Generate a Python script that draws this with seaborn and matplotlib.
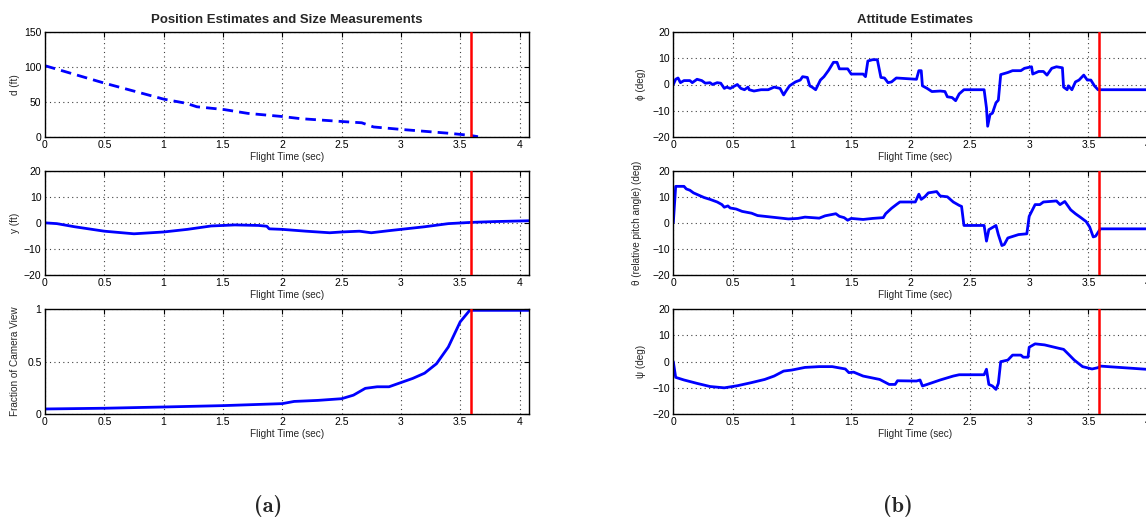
import os
import numpy as np
import pandas as pd
import matplotlib
matplotlib.use("Agg")
import matplotlib.pyplot as plt
from matplotlib.font_manager import FontProperties
import seaborn as sns

# ---------------- data ----------------
d_t = [0, 0.5, 1.0, 1.19, 1.28, 1.51, 1.71, 2.0, 2.15, 2.53, 2.67, 2.77, 3.0, 3.4, 3.58, 3.65]
d_v = [102, 77, 54, 48, 43, 39, 33.5, 29, 26, 21.5, 20, 14, 10.5, 5, 2, 0]

y_t = [0, 0.1, 0.25, 0.5, 0.75, 1.0, 1.2, 1.4, 1.6, 1.8, 1.87, 1.89, 2.0, 2.2, 2.4, 2.5, 2.65,
       2.75, 2.9, 3.0, 3.2, 3.4, 3.6, 3.8, 4.08]
y_v = [0, -0.3, -1.5, -3.2, -4.2, -3.5, -2.5, -1.2, -0.8, -1.0, -1.3, -2.3, -2.5, -3.2, -3.8,
       -3.5, -3.2, -3.8, -3.0, -2.5, -1.5, -0.3, 0.2, 0.5, 0.8]

f_t = [0, 0.5, 1.0, 1.5, 2.0, 2.1, 2.3, 2.5, 2.6, 2.7, 2.8, 2.9, 3.0, 3.1, 3.2, 3.3, 3.4, 3.5,
       3.58, 3.6, 4.08]
f_v = [0.048, 0.055, 0.067, 0.08, 0.099, 0.12, 0.13, 0.146, 0.18, 0.245, 0.26, 0.26, 0.30,
       0.34, 0.39, 0.48, 0.64, 0.88, 0.99, 0.99, 0.99]

phi_t = [0, 0.02, 0.04, 0.06, 0.09, 0.14, 0.16, 0.2, 0.24, 0.27, 0.31, 0.33, 0.37, 0.4, 0.43,
         0.45, 0.48, 0.54, 0.57, 0.6, 0.63, 0.64, 0.68, 0.74, 0.8, 0.85, 0.9, 0.93, 0.95, 0.98,
         1.03, 1.07, 1.09, 1.13, 1.15, 1.17, 1.2, 1.24, 1.27, 1.31, 1.35, 1.38, 1.4, 1.47, 1.5,
         1.6, 1.62, 1.64, 1.68, 1.72, 1.75, 1.78, 1.81, 1.84, 1.88, 2.05, 2.07, 2.09, 2.1, 2.14,
         2.18, 2.25, 2.29, 2.31, 2.35, 2.38, 2.41, 2.45, 2.62, 2.64, 2.65, 2.67, 2.69, 2.72,
         2.74, 2.76, 2.82, 2.86, 2.93, 2.96, 3.02, 3.03, 3.08, 3.12, 3.15, 3.19, 3.23, 3.28,
         3.29, 3.32, 3.33, 3.36, 3.39, 3.42, 3.46, 3.49, 3.52, 3.55, 3.58, 4.08]
phi_v = [0, 2, 2.5, 0.7, 1.5, 1.5, 0.7, 2, 1.5, 0.5, 0.7, 0, 0.7, 0.5, -1.5,
         -1, -1.5, 0, -1.5, -2, -1, -2, -2.5, -2, -2, -1, -1.5, -4, -2.5, -0.5,
         1, 1.7, 3, 2.7, -0.5, -1, -2, 1.7, 3, 5.5, 8.5, 8.5, 6, 6, 4,
         4, 3, 9, 9.5, 9.5, 2.7, 2.5, 0.7, 1, 2.5, 2, 5.3, 5.3, -0.5, -1.5,
         -2.7, -2.5, -2.7, -4.7, -5, -6.2, -3.6, -2, -2, -9, -16, -11.5, -11, -7,
         -6, 3.8, 4.6, 5.3, 5.3, 6.2, 6.8, 4, 5, 5, 3.6, 6.2, 6.8, 6.4,
         -1, -2, -0.5, -2, 1, 1.7, 3.6, 1.7, 1.7, -0.5, -2, -2]

theta_t = [0, 0.02, 0.09, 0.11, 0.14, 0.17, 0.21, 0.26, 0.31, 0.37, 0.41, 0.43, 0.46, 0.48,
           0.53, 0.58, 0.66, 0.71, 0.83, 0.97, 1.05, 1.11, 1.23, 1.28, 1.37, 1.4, 1.44, 1.47,
           1.5, 1.6, 1.68, 1.77, 1.79, 1.84, 1.88, 1.91, 2.04, 2.07, 2.09, 2.12, 2.15, 2.22,
           2.25, 2.31, 2.36, 2.41, 2.43, 2.45, 2.62, 2.64, 2.66, 2.72, 2.74, 2.77, 2.79, 2.82,
           2.91, 2.98, 3.0, 3.05, 3.09, 3.12, 3.23, 3.26, 3.3, 3.35, 3.39, 3.43, 3.48, 3.51,
           3.54, 3.56, 3.6, 4.08]
theta_v = [0, 14, 14, 13, 12.5, 11.5, 10.7, 9.7, 9, 8, 7, 6, 6.5, 5.7,
           5.3, 4.4, 3.7, 2.8, 2.2, 1.5, 1.7, 2.2, 1.8, 2.7, 3.5, 2.5, 2, 1,
           1.7, 1.3, 1.7, 2, 3.5, 5.6, 7, 8, 8, 11, 9, 10, 11.5, 12,
           10.3, 10, 8, 6.7, 6.3, -1, -1, -7, -2.6, -1, -4.5, -8.7, -8.3, -5.8,
           -4.5, -4.2, 2.5, 7, 7, 8, 8.4, 7, 8.2, 5, 3.5, 2.2, 0.5, -1.6,
           -5.4, -5.1, -2.3, -2.3]

psi_t = [0, 0.02, 0.09, 0.2, 0.31, 0.43, 0.54, 0.66, 0.77, 0.85, 0.93, 1.0, 1.11, 1.23, 1.34,
         1.45, 1.48, 1.52, 1.6, 1.74, 1.82, 1.87, 1.89, 2.05, 2.08, 2.1, 2.14, 2.25, 2.36,
         2.41, 2.62, 2.64, 2.66, 2.69, 2.72, 2.74, 2.76, 2.82, 2.86, 2.93, 2.95, 2.99, 3.0,
         3.05, 3.13, 3.25, 3.29, 3.33, 3.38, 3.45, 3.53, 3.58, 3.6, 4.08]
psi_v = [0, -6, -7, -8.3, -9.5, -10, -9.2, -8, -6.8, -5.5, -3.6, -3.2, -2.2, -1.9, -1.9,
         -2.8, -4.2, -4, -5.5, -6.8, -8.7, -8.7, -7.3, -7.4, -7, -9.3, -8.7, -7, -5.5,
         -5, -5, -2.9, -8.7, -9.3, -10.6, -8.3, 0, 0.6, 2.5, 2.5, 1.7, 1.7, 5.5,
         6.8, 6.4, 5.1, 4.7, 2.9, 0.6, -1.9, -2.8, -2.3, -1.7, -3.2]

event_time = 3.59
x_ticks = [0, 0.5, 1, 1.5, 2, 2.5, 3, 3.5, 4]
x_tick_labels = ['0', '0.5', '1', '1.5', '2', '2.5', '3', '3.5', '4']
ang_ticks = [-20, -10, 0, 10, 20]
ang_tick_labels = ['\u221220', '\u221210', '0', '10', '20']

titles = ['Position Estimates and Size Measurements', 'Attitude Estimates']
xlabel = 'Flight Time (sec)'
panel_tags = ['(a)', '(b)']

# ---------------- style ----------------
sns.set_theme(style='white')
plt.rcParams['font.family'] = ['Liberation Sans', 'DejaVu Sans']
plt.rcParams['axes.unicode_minus'] = True

W, H = 1146, 519
fig = plt.figure(figsize=(W / 100, H / 100), dpi=100)

def frac_rect(left, top, right, bottom):
    return [left / W, 1 - bottom / H, (right - left) / W, (bottom - top) / H]

rows = [(32.3, 136.7), (170.7, 275.0), (309.3, 414.0)]
left_x = (45.0, 529.0)
right_x = (673.3, 673.3 + 484.0)

LW = 2.0
BLUE = '#0000ff'

def style_ax(ax, yticks, yticklabels, ylim, ylabel, lab_x):
    ax.set_xlim(0, 4.08)
    ax.set_ylim(*ylim)
    ax.set_xticks(x_ticks)
    ax.set_xticklabels(x_tick_labels)
    ax.set_yticks(yticks)
    ax.set_yticklabels(yticklabels)
    ax.grid(True, linestyle=(0, (1, 3)), color='0.25', linewidth=0.8)
    ax.tick_params(direction='in', top=True, right=True, length=3.5, width=0.8,
                   labelsize=7.5, pad=2.5, colors='black')
    for s in ax.spines.values():
        s.set_color('black')
        s.set_linewidth(1.0)
        s.set_visible(True)
    ax.set_xlabel(xlabel, fontsize=7.2, labelpad=1)
    ax.set_ylabel(ylabel, fontsize=7.2)
    ax.yaxis.set_label_coords(lab_x, 0.5)
    ax.axvline(event_time, color='red', linewidth=1.8, zorder=5)

# ---- left column ----
axs_l = [fig.add_axes(frac_rect(left_x[0], r[0], left_x[1], r[1])) for r in rows]

df_d = pd.DataFrame({'t': d_t, 'v': d_v})
sns.lineplot(data=df_d, x='t', y='v', ax=axs_l[0], color=BLUE, linewidth=LW,
             estimator=None, sort=False)
axs_l[0].lines[-1].set_dashes([3.8, 2.2])
style_ax(axs_l[0], [0, 50, 100, 150], ['0', '50', '100', '150'], (0, 150), 'd (ft)', -0.052)

df_y = pd.DataFrame({'t': y_t, 'v': y_v})
sns.lineplot(data=df_y, x='t', y='v', ax=axs_l[1], color=BLUE, linewidth=LW,
             estimator=None, sort=False)
style_ax(axs_l[1], ang_ticks, ang_tick_labels, (-20, 20), 'y (ft)', -0.052)

df_f = pd.DataFrame({'t': f_t, 'v': f_v})
sns.lineplot(data=df_f, x='t', y='v', ax=axs_l[2], color=BLUE, linewidth=LW,
             estimator=None, sort=False)
style_ax(axs_l[2], [0, 0.5, 1], ['0', '0.5', '1'], (0, 1), 'Fraction of Camera View', -0.052)

axs_l[0].set_title(titles[0], fontsize=9.5, fontweight='bold', pad=7)

# ---- right column ----
axs_r = [fig.add_axes(frac_rect(right_x[0], r[0], right_x[1], r[1])) for r in rows]
for ax, (tt, vv), lab, lx in zip(
        axs_r,
        [(phi_t, phi_v), (theta_t, theta_v), (psi_t, psi_v)],
        ['\u03d5 (deg)', '\u03b8 (relative pitch angle) (deg)', '\u03c8 (deg)'],
        [-0.056, -0.064, -0.056]):
    sns.lineplot(x=tt, y=vv, ax=ax, color=BLUE, linewidth=LW, estimator=None, sort=False)
    style_ax(ax, ang_ticks, ang_tick_labels, (-20, 20), lab, lx)

axs_r[0].set_title(titles[1], fontsize=9.5, fontweight='bold', pad=7)

# panel tags in Computer Modern bold (bundled with matplotlib)
cmb_path = os.path.join(matplotlib.get_data_path(), 'fonts', 'ttf', 'cmb10.ttf')
if os.path.exists(cmb_path):
    tag_fp = FontProperties(fname=cmb_path, size=16)
else:
    tag_fp = FontProperties(family='DejaVu Serif', weight='bold', size=15)
fig.text(268 / W, 1 - 506 / H, panel_tags[0], fontproperties=tag_fp, ha='center', va='center')
fig.text(898 / W, 1 - 506 / H, panel_tags[1], fontproperties=tag_fp, ha='center', va='center')

fig.savefig('out.png', dpi=100, facecolor='white')
